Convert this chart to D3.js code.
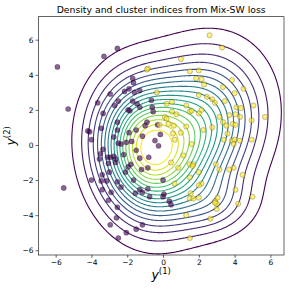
<!DOCTYPE html>
<html>
<head>
<meta charset="utf-8">
<script src="https://cdn.jsdelivr.net/npm/d3@7"></script>
<style>
  html, body { margin: 0; padding: 0; background: #fff; }
  svg { display: block; font-family: "DejaVu Sans", sans-serif; }
</style>
</head>
<body>
<svg id="chart" width="291" height="291"></svg>
<script>
// mixture density behind the contours
const mixWeights = [0.50, 0.46, 0.04];
const mixMeanX = [-1.0, 1.95, 2.8];
const mixMeanY = [-0.3, 1.0, -3.3];
const mixSdX = [1.75, 2.15, 1.5];
const mixSdY = [2.45, 2.6, 1.2];
const mixRho = [-0.1, 0.15, 0.0];
const levelCount = 18;

// cluster 0 (purple) and cluster 1 (yellow) samples
const cluster0 = [
  [-5.9, 4.45], [-3.3, 5.05], [-2.55, 5.5], [-5.3, 2.05], [-5.55, -2.45], [-3.65, 2.4],
  [-4.2, 0.8], [-4.1, 0.75], [-4.0, 0.3], [-4.0, -2.0], [-3.35, 1.8], [-3.45, 0.95],
  [-2.95, 2.9], [-2.7, 2.25], [-2.5, 2.5], [-2.55, 1.3], [-2.55, 0.85], [-2.75, 0.45],
  [-2.5, 0.1], [-2.35, 0.05], [-2.05, 0.15], [-2.15, 3.05], [-1.9, 3.2], [-1.7, 3.8],
  [-1.65, 3.55], [-1.6, 3.0], [-1.3, 3.1], [-1.7, 2.5], [-1.45, 2.35], [-1.95, 2.0],
  [-1.3, 2.15], [-1.85, 1.95], [-0.65, 2.55], [-0.6, 2.15], [-0.55, 1.9], [-0.9, 1.3],
  [-3.5, -0.5], [-3.35, -0.25], [-3.55, -0.8], [-3.1, -0.7], [-2.95, -0.7], [-2.75, -0.65],
  [-2.65, -0.8], [-3.05, -1.05], [-3.0, -1.55], [-3.4, -1.7], [-3.15, -2.05], [-3.45, -2.05],
  [-3.4, -2.55], [-3.05, -3.15], [-2.9, -2.7], [-2.95, -4.55], [-2.55, -3.55], [-2.6, -4.15],
  [-2.5, -5.3], [-2.05, -5.0], [-1.5, -4.8], [-1.15, -4.55], [-2.55, -2.1], [-2.35, -2.4],
  [-2.65, -1.0], [-1.95, -1.25], [-1.65, -2.0], [-1.55, -2.75], [-1.3, -2.55], [-1.15, -2.7],
  [-0.85, -2.5], [-0.75, -2.95], [-1.3, -0.75], [-0.8, -0.7], [-1.2, -1.4], [-0.85, -1.3],
  [-1.15, 0.5], [-0.3, 1.15], [-0.45, 0.25], [-0.25, -0.05], [0.0, -2.0], [0.05, -2.8],
  [0.0, -2.95], [0.35, -3.2], [0.45, -3.4], [-1.75, 0.2], [-1.5, -0.3], [-2.2, -0.55],
  [-1.8, -1.1], [-2.1, -1.55], [-1.9, 0.7], [-1.5, 0.85], [-1.0, 1.1], [-0.15, 0.6]
];
const cluster1 = [
  [2.6, 6.25], [3.3, 5.55], [1.0, 4.9], [-0.85, 4.35], [-0.9, 4.3], [1.5, 4.2],
  [2.0, 4.25], [1.85, 3.8], [2.15, 3.75], [2.3, 3.45], [3.85, 3.7], [4.5, 3.2],
  [3.35, 3.3], [4.0, 2.95], [2.0, 2.85], [2.45, 2.75], [2.75, 2.6], [2.9, 2.4],
  [3.45, 2.5], [4.1, 2.15], [4.35, 2.1], [5.05, 2.25], [5.7, 1.6], [-0.35, 3.0],
  [0.2, 2.35], [0.5, 2.45], [1.3, 2.25], [1.5, 1.9], [1.6, 1.95], [0.5, 1.9],
  [0.1, 1.6], [0.2, 1.5], [0.75, 1.75], [-0.2, 1.15], [0.3, 1.2], [0.6, 1.1],
  [1.3, 1.05], [2.15, 2.0], [2.0, 1.8], [3.15, 1.6], [3.7, 1.7], [4.05, 1.75],
  [4.3, 1.6], [2.75, 1.0], [3.35, 1.3], [3.55, 1.1], [3.9, 1.2], [4.05, 1.15],
  [4.95, 1.4], [1.0, 0.7], [0.55, 0.65], [2.25, 0.85], [3.6, 0.65], [0.65, 0.3],
  [3.4, 0.3], [3.85, 0.25], [4.0, 0.3], [3.95, 0.05], [4.3, 0.25], [4.95, 0.3],
  [1.6, 0.05], [1.15, -0.6], [0.45, -1.0], [0.85, -1.3], [1.5, -1.1], [1.7, -1.1],
  [1.65, -1.2], [1.5, -1.85], [2.0, -1.55], [2.95, -1.1], [3.15, -1.4], [3.7, -1.4],
  [3.95, -1.3], [4.45, -1.7], [2.15, -2.2], [2.0, -2.3], [0.65, -2.2], [1.55, -2.75],
  [1.5, -3.05], [1.7, -3.05], [2.0, -3.0], [2.9, -3.2], [3.05, -3.0], [3.0, -3.35],
  [3.0, -3.65], [2.9, -3.3], [4.05, -2.55], [4.2, -3.35], [5.0, -2.95], [1.3, -4.0],
  [2.65, -4.2], [1.5, -5.3]
];

const xTicks = [-6, -4, -2, 0, 2, 4, 6];
const yTicks = [-6, -4, -2, 0, 2, 4, 6];
const titleText = "Density and cluster indices from Mix-SW loss";

const margin = {top: 16.7, right: 7, bottom: 36, left: 38.3};
const width = 291, height = 291;

const x = d3.scaleLinear().domain([-6.97, 6.76]).range([margin.left, width - margin.right]);
const y = d3.scaleLinear().domain([-6.27, 7.31]).range([height - margin.bottom, margin.top]);

const svg = d3.select('#chart');

svg.append('clipPath').attr('id', 'plot-clip')
  .append('rect')
  .attr('x', margin.left).attr('y', margin.top)
  .attr('width', width - margin.left - margin.right)
  .attr('height', height - margin.top - margin.bottom);

function density(px, py) {
  let s = 0;
  for (let k = 0; k < mixWeights.length; k++) {
    let dx = (px - mixMeanX[k]) / mixSdX[k];
    let dy = (py - mixMeanY[k]) / mixSdY[k];
    let r = mixRho[k];
    let q = (dx * dx - 2 * r * dx * dy + dy * dy) / (1 - r * r);
    s += mixWeights[k] * Math.exp(-0.5 * q) / (2 * Math.PI * mixSdX[k] * mixSdY[k] * Math.sqrt(1 - r * r));
  }
  return s;
}

// evaluate on a grid
const gx0 = -7.5, gy0 = -7, step = 0.05;
const nx = 301, ny = 301;
const grid = new Array(nx * ny);
for (let j = 0; j < ny; j++) {
  for (let i = 0; i < nx; i++) {
    grid[j * nx + i] = density(gx0 + i * step, gy0 + j * step);
  }
}
const zmax = d3.max(grid);
const levels = d3.range(1, levelCount + 1).map(i => i * zmax / (levelCount + 1.4));
const color = d3.scaleSequential(d3.interpolateViridis).domain([levels[0], levels[levels.length - 1]]);

const contours = d3.contours().size([nx, ny]).thresholds(levels)(grid);
const gridToPx = d3.geoTransform({
  point: function(cx, cy) {
    this.stream.point(x(gx0 + (cx - 0.5) * step), y(gy0 + (cy - 0.5) * step));
  }
});
const path = d3.geoPath(gridToPx);

svg.append('g')
  .attr('clip-path', 'url(#plot-clip)')
  .selectAll('path')
  .data(contours)
  .join('path')
  .attr('d', path)
  .attr('fill', 'none')
  .attr('stroke', d => color(d.value))
  .attr('stroke-width', 1.1);

// points
const pts = cluster0.map(p => ({x: p[0], y: p[1], c: 0}))
  .concat(cluster1.map(p => ({x: p[0], y: p[1], c: 1})));

svg.append('g')
  .selectAll('circle')
  .data(pts)
  .join('circle')
  .attr('cx', d => x(d.x))
  .attr('cy', d => y(d.y))
  .attr('r', 2.6)
  .attr('fill', d => d.c === 0 ? '#440154' : '#fde725')
  .attr('fill-opacity', 0.62)
  .attr('stroke', '#000')
  .attr('stroke-opacity', 0.45)
  .attr('stroke-width', 0.5);

// axes
const fmt = d => d < 0 ? '\u2212' + Math.abs(d) : d;
const xAxis = svg.append('g')
  .attr('transform', `translate(0,${height - margin.bottom})`)
  .call(d3.axisBottom(x).tickValues(xTicks).tickSize(2.8).tickPadding(2).tickFormat(fmt));
const yAxis = svg.append('g')
  .attr('transform', `translate(${margin.left},0)`)
  .call(d3.axisLeft(y).tickValues(yTicks).tickSize(2.8).tickPadding(2).tickFormat(fmt));

[xAxis, yAxis].forEach(g => {
  g.select('.domain').remove();
  g.selectAll('line').attr('stroke', '#000').attr('stroke-width', 0.6);
  g.selectAll('text').attr('font-size', 7.5).attr('fill', '#000').attr('font-family', 'DejaVu Sans');
});

svg.append('rect')
  .attr('x', margin.left).attr('y', margin.top)
  .attr('width', width - margin.left - margin.right)
  .attr('height', height - margin.top - margin.bottom)
  .attr('fill', 'none')
  .attr('stroke', '#000')
  .attr('stroke-width', 0.6);

svg.append('text')
  .attr('x', (margin.left + width - margin.right) / 2)
  .attr('y', 12.5)
  .attr('text-anchor', 'middle')
  .attr('font-size', 9.3)
  .text(titleText);

const xl = svg.append('text')
  .attr('x', (margin.left + width - margin.right) / 2)
  .attr('y', 279)
  .attr('text-anchor', 'middle');
xl.append('tspan').attr('font-style', 'italic').attr('font-size', 12.5).text('y');
xl.append('tspan').attr('font-size', 8.5).attr('dy', -5).text('(1)');

const yl = svg.append('text')
  .attr('transform', `translate(15,${(margin.top + height - margin.bottom) / 2}) rotate(-90)`)
  .attr('text-anchor', 'middle');
yl.append('tspan').attr('font-style', 'italic').attr('font-size', 12.5).text('y');
yl.append('tspan').attr('font-size', 8.5).attr('dy', -5).text('(2)');
</script>
</body>
</html>
